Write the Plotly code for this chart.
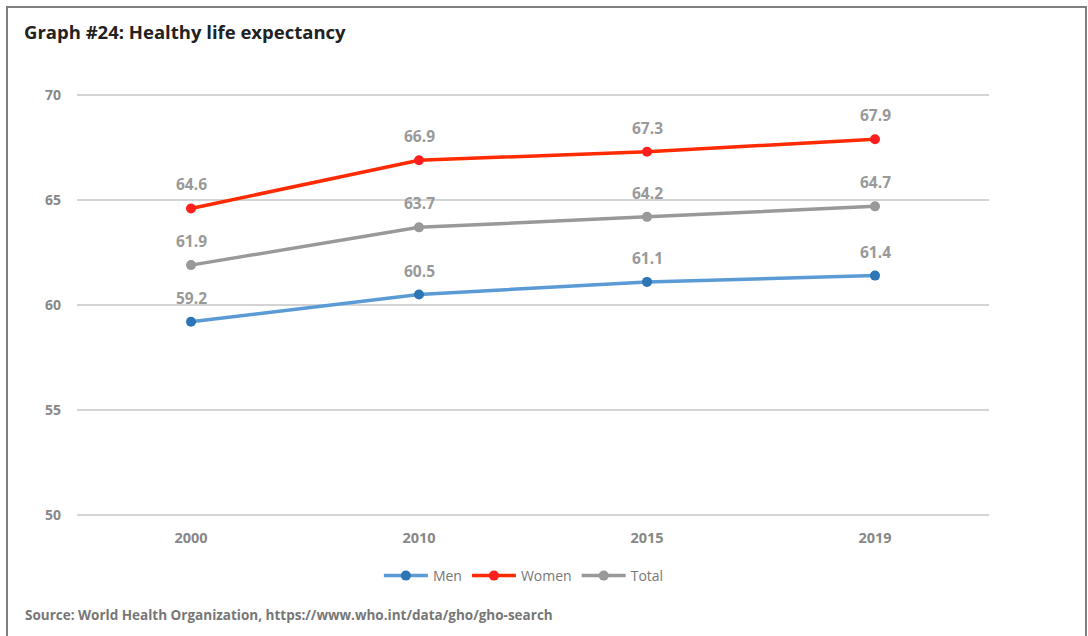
import plotly.graph_objects as go

years = ["2000", "2010", "2015", "2019"]
men = [59.2, 60.5, 61.1, 61.4]
women = [64.6, 66.9, 67.3, 67.9]
total = [61.9, 63.7, 64.2, 64.7]
y_ticks = [50, 55, 60, 65, 70]

series = [
    ("Men", men, "#5b9bd5", "#2e75b6"),
    ("Women", women, "#ff2a00", "#ff1f1f"),
    ("Total", total, "#999999", "#999999"),
]

FONT = "Open Sans, Noto Sans, sans-serif"

fig = go.Figure()
annotations = []
for name, vals, line_c, mark_c in series:
    fig.add_trace(go.Scatter(
        x=years, y=vals, name=name, mode="lines+markers",
        line=dict(color=line_c, width=3.5),
        marker=dict(color=mark_c, size=10),
    ))
    # value labels above each point (category index used as x position)
    for i, v in enumerate(vals):
        annotations.append(dict(
            xref="x", yref="y", x=i, y=v, text=f"<b>{v:.1f}</b>", showarrow=False, yshift=24,
            font=dict(family=FONT, size=15.5, color="#999999"),
        ))

# padded value range so the 50 and 70 grid lines stay visible
Y_MIN, Y_MAX = 49.9, 70.1

# plot area spans 77..989 px horizontally, ~93..517 px vertically
L, R, T, B = 77, 99, 93, 119
W, H = 1088, 636
pw, ph = W - L - R, H - T - B

def px_x(px):
    return (px - L) / pw

def px_y(py):
    return 1 - (py - T) / ph

annotations.append(dict(
    xref="paper", yref="paper", x=px_x(22), y=px_y(31), xanchor="left", yanchor="middle",
    text="<b>Graph #24: Healthy life expectancy</b>", showarrow=False,
    font=dict(family=FONT, size=18.5, color="#222222"),
))
annotations.append(dict(
    xref="paper", yref="paper", x=px_x(23), y=px_y(615), xanchor="left", yanchor="middle",
    text="<b>Source: World Health Organization, https://www.who.int/data/gho/gho-search</b>",
    showarrow=False, font=dict(family=FONT, size=13.5, color="#777777"),
))

fig.update_layout(
    width=W, height=H,
    margin=dict(l=L, r=R, t=T, b=B),
    paper_bgcolor="white", plot_bgcolor="white",
    font=dict(family=FONT),
    showlegend=True,
    legend=dict(orientation="h", x=0.49, xanchor="center", y=px_y(576), yanchor="middle",
                font=dict(family=FONT, size=14, color="#777777"),
                itemwidth=44, tracegroupgap=0),
    annotations=annotations,
    shapes=[dict(type="rect", xref="paper", yref="paper",
                 x0=px_x(7), x1=px_x(1086), y0=px_y(660), y1=px_y(7),
                 line=dict(color="#7f7f7f", width=2), layer="below")],
)
fig.update_xaxes(type="category", range=[-0.5, 3.5], showgrid=False, showline=False,
                 ticks="", ticklabelstandoff=10,
                 tickfont=dict(family=FONT, size=14.5, color="#888888", weight="bold"))
fig.update_yaxes(range=[Y_MIN, Y_MAX], tickvals=y_ticks, showgrid=True, gridcolor="#d4d4d4",
                 gridwidth=1.5, zeroline=False, showline=False, ticks="", ticklabelstandoff=15,
                 tickfont=dict(family=FONT, size=14, color="#888888", weight="bold"))

fig.write_html("out.html")
